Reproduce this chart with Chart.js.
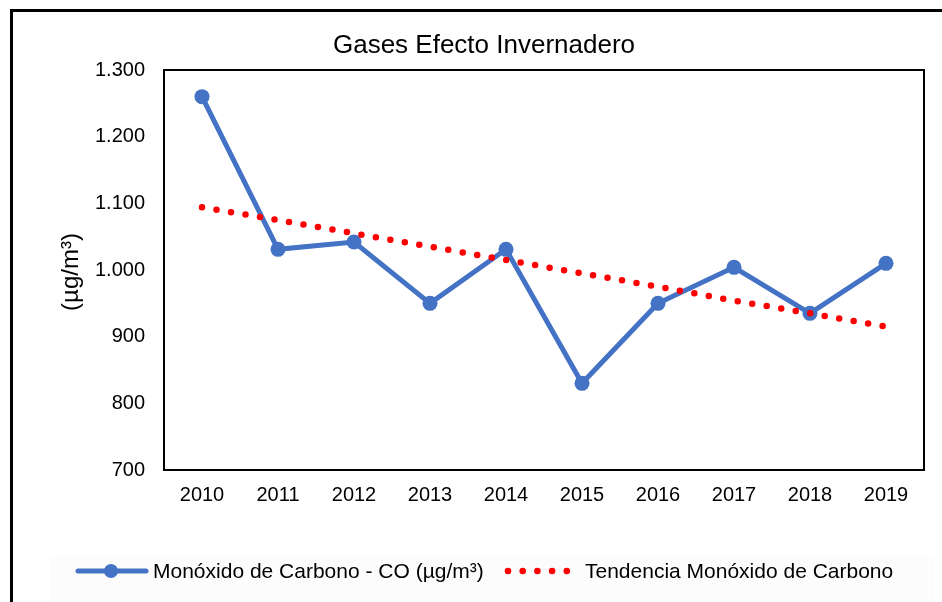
<!DOCTYPE html>
<html>
<head>
<meta charset="utf-8">
<script src="https://cdn.jsdelivr.net/npm/chart.js@4"></script>
<style>
html,body{margin:0;padding:0;background:#fff;}
canvas{display:block;}
</style>
</head>
<body>
<canvas id="c" width="942" height="602"></canvas>
<script>
const titleText = "Gases Efecto Invernadero";
const yTitle = "(µg/m³)";
const categories = ["2010","2011","2012","2013","2014","2015","2016","2017","2018","2019"];
const coValues = [1260, 1031, 1042, 950, 1031, 830, 950, 1004, 935, 1010];
const trendValues = [1094, 1075, 1055, 1035, 1015, 995, 975, 954, 935, 915];
const seriesLabels = ["Monóxido de Carbono - CO (µg/m³)", "Tendencia Monóxido de Carbono"];
const yMin = 700, yMax = 1300, yStep = 100;

const FONT = "'Liberation Sans', Arial, sans-serif";
const BLUE = "#4472C4";
const RED = "#FF0000";

function fmt(v){
  const s = String(Math.round(v));
  return s.length > 3 ? s.slice(0, s.length-3) + "." + s.slice(-3) : s;
}

const decor = {
  id: "decor",
  beforeDraw(chart){
    const ctx = chart.ctx;
    ctx.save();
    ctx.fillStyle = "#fff";
    ctx.fillRect(0,0,chart.width,chart.height);
    ctx.fillStyle = "#fcfcfc";
    ctx.fillRect(50, 557, 885, 45);
    ctx.restore();
  },
  afterDatasetsDraw(chart){
    const ctx = chart.ctx;
    const a = chart.chartArea;
    ctx.save();
    ctx.strokeStyle = "#000";
    ctx.lineWidth = 2;
    ctx.strokeRect(a.left, a.top, a.right - a.left, a.bottom - a.top);
    ctx.restore();
  },
  afterDraw(chart){
    const ctx = chart.ctx;
    ctx.save();
    ctx.strokeStyle = "#000";
    ctx.lineWidth = 3;
    ctx.beginPath();
    ctx.moveTo(11.5, 602);
    ctx.lineTo(11.5, 10.5);
    ctx.lineTo(942, 10.5);
    ctx.stroke();
    ctx.fillStyle = "#000";
    ctx.font = "26px " + FONT;
    ctx.textAlign = "center";
    ctx.textBaseline = "middle";
    ctx.fillText(titleText, 484, 46);
    ctx.save();
    ctx.translate(71, 272);
    ctx.rotate(-Math.PI/2);
    ctx.font = "24px " + FONT;
    ctx.fillText(yTitle, 0, 0);
    ctx.restore();
    const ly = 571;
    ctx.strokeStyle = BLUE;
    ctx.lineWidth = 5;
    ctx.lineCap = "round";
    ctx.beginPath();
    ctx.moveTo(78, ly); ctx.lineTo(146, ly);
    ctx.stroke();
    ctx.fillStyle = BLUE;
    ctx.beginPath(); ctx.arc(111, ly, 7, 0, Math.PI*2); ctx.fill();
    ctx.fillStyle = RED;
    for (let i = 0; i < 5; i++){
      ctx.beginPath(); ctx.arc(508 + i*14.7, ly, 3.3, 0, Math.PI*2); ctx.fill();
    }
    ctx.fillStyle = "#000";
    ctx.font = "21px " + FONT;
    ctx.textAlign = "left";
    ctx.textBaseline = "middle";
    ctx.fillText(seriesLabels[0], 153, ly + 1);
    ctx.fillText(seriesLabels[1], 585, ly + 1);
    ctx.restore();
  }
};

new Chart(document.getElementById("c"), {
  type: "line",
  data: {
    labels: categories,
    datasets: [
      {
        label: seriesLabels[0],
        data: coValues,
        borderColor: BLUE,
        backgroundColor: BLUE,
        borderWidth: 5,
        pointRadius: 7.5,
        pointBorderWidth: 0,
        pointBackgroundColor: BLUE,
        tension: 0,
        order: 1
      },
      {
        label: seriesLabels[1],
        data: trendValues,
        borderColor: RED,
        borderWidth: 6.5,
        borderDash: [0, 14.7],
        borderCapStyle: "round",
        pointRadius: 0,
        tension: 0,
        order: 0
      }
    ]
  },
  options: {
    responsive: false,
    animation: false,
    devicePixelRatio: 1,
    layout: { padding: { left: 0, top: 70, right: 18, bottom: 0 } },
    plugins: {
      legend: { display: false },
      title: { display: false },
      tooltip: { enabled: false }
    },
    scales: {
      x: {
        offset: true,
        grid: { display: false, drawTicks: false },
        border: { display: false },
        ticks: { color: "#000", font: { family: FONT, size: 20 }, padding: 13, maxRotation: 0 },
        afterFit(s){ s.height = 132; }
      },
      y: {
        min: yMin, max: yMax,
        grid: { display: false, drawTicks: false },
        border: { display: false },
        ticks: { stepSize: yStep, color: "#000", font: { family: FONT, size: 20 }, padding: 19, callback: v => fmt(v) },
        afterFit(s){ s.width = 164; }
      }
    }
  },
  plugins: [decor]
});
</script>
</body>
</html>
